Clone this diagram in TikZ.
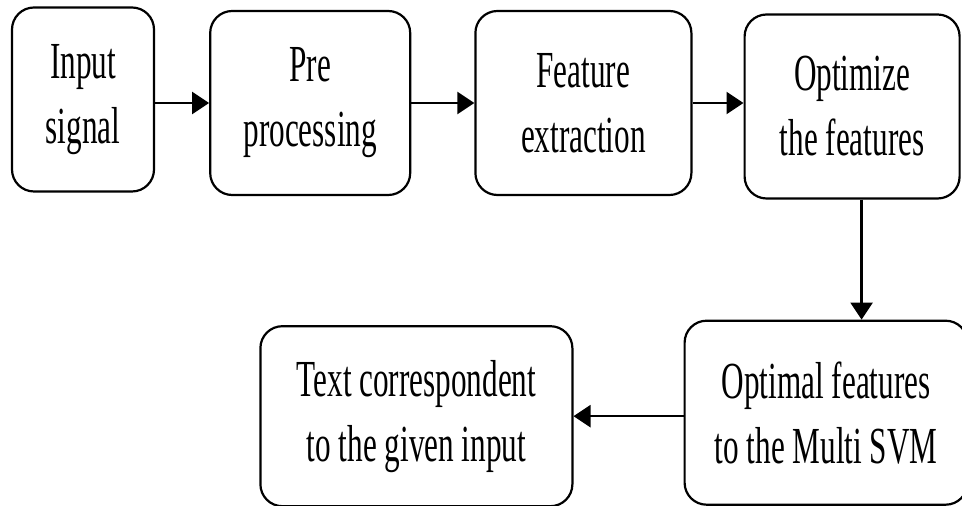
\documentclass[tikz,border=0pt]{standalone}
\usepackage{fontspec}
\setmainfont{Liberation Serif}[FakeStretch=0.6]
\usepackage{tikz}
\usetikzlibrary{positioning}
\usetikzlibrary{arrows.meta}

\begin{document}
\begin{tikzpicture}
\tikzset{block/.style={rectangle,draw=black,rounded corners=11pt,
		line width=1.1pt,align=center,minimum height=92pt,
		font=\fontsize{26}{32.5}\selectfont}, >={Triangle[length=8.5pt,width=11pt]}}

\useasboundingbox (0,0) rectangle (481pt,-253pt);

\node[block,minimum width=71pt] (in) at (41.5pt,-49.75pt) {Input\\signal};

\node[block,minimum width=100pt] (pre) [right = 27pt of in, yshift=-1.75pt] {Pre\\processing};

\node[block,minimum width=108pt] (fe) [right = 31.5pt of pre] {Feature\\extraction};

\node[block,minimum width=107.5pt] (opt) [right = 25.5pt of fe, yshift=-1.75pt] {Optimize\\the features};

\node[block,minimum width=141.5pt] (svm) [below = 60pt of opt, xshift=-13pt] {Optimal features\\to the Multi SVM};

\node[block,minimum width=156pt,minimum height=90pt] (txt) [left = 55pt of svm, yshift=-1.75pt] {Text correspondent\\to the given input};

\draw[->,line width=1.2pt] (pre.west -| in.east) -- (pre.west);
\draw[->,line width=1.2pt] (pre) -- (fe);
\draw[->,line width=1.2pt] (fe.east) -- (fe.east -| opt.west);

\draw[->,line width=1.2pt] ([xshift=4.75pt]opt.south) -- ([xshift=4.75pt]opt.south |- svm.north);
\draw[->,line width=1.2pt] (svm.west |- txt.east) -- (txt.east);
\end{tikzpicture}
\end{document}
